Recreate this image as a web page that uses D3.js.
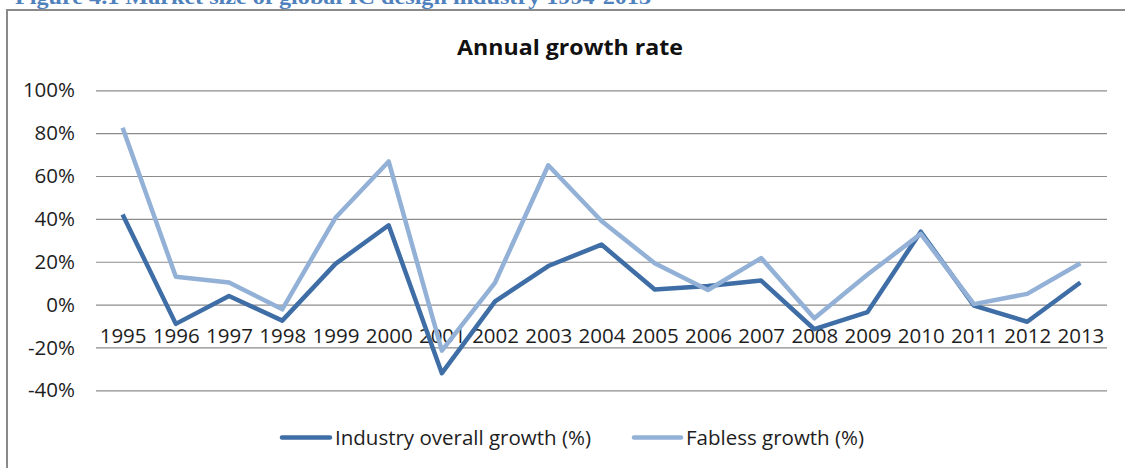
<!DOCTYPE html>
<html>
<head>
<meta charset="utf-8">
<script src="https://cdn.jsdelivr.net/npm/d3@7"></script>
<style>
  html, body { margin: 0; padding: 0; background: #fff; }
  svg { display: block; }
</style>
</head>
<body>
<svg id="chart" width="1125" height="468"></svg>
<script>
// Annual growth rate of the global IC design industry, 1995-2013
const years = ["1995","1996","1997","1998","1999","2000","2001","2002","2003","2004",
               "2005","2006","2007","2008","2009","2010","2011","2012","2013"];
const industryGrowth = [42, -9, 4, -7.5, 19, 37, -32, 1.5, 18, 28,
                        7, 8.7, 11.2, -11.5, -3.5, 34, -0.5, -8, 10.3];
const fablessGrowth  = [82.5, 13, 10.3, -2.2, 40.5, 66.8, -21.5, 10.3, 65, 39,
                        19.3, 6.8, 21.7, -6.4, 14, 33, 0.2, 5, 19.3];
const yTicks = [-40, -20, 0, 20, 40, 60, 80, 100];
const seriesNames = ["Industry overall growth (%)", "Fabless growth (%)"];
const seriesColors = ["#3e6ea5", "#93b1d6"];

const svg = d3.select("#chart");
const fontFamily = "'Open Sans', 'Noto Sans', sans-serif";

// Caption above the chart frame
svg.append("text")
  .attr("x", 15).attr("y", 4)
  .attr("font-family", "'Liberation Serif', 'Times New Roman', serif")
  .attr("font-weight", "bold")
  .attr("font-size", 20)
  .attr("fill", "#4f81bd")
  .attr("textLength", 636)
  .attr("lengthAdjust", "spacingAndGlyphs")
  .text("Figure 4.1 Market size of global IC design industry 1994-2013");

// Chart frame
svg.append("rect")
  .attr("x", 7).attr("y", 10)
  .attr("width", 1140).attr("height", 480)
  .attr("fill", "#fff")
  .attr("stroke", "#8a8a8a")
  .attr("stroke-width", 2);

// Title
svg.append("text")
  .attr("x", 570).attr("y", 55)
  .attr("text-anchor", "middle")
  .attr("font-family", fontFamily)
  .attr("font-weight", "bold")
  .attr("font-size", 21)
  .attr("fill", "#111")
  .attr("textLength", 226)
  .attr("lengthAdjust", "spacingAndGlyphs")
  .text("Annual  growth rate");

const x = d3.scalePoint().domain(years).range([96, 1107]).padding(0.5);
const y = d3.scaleLinear().domain([-40, 100]).range([390.3, 90.3]);

// Horizontal gridlines with percentage labels
const yAxis = d3.axisLeft(y)
  .tickValues(yTicks)
  .tickSize(-(1107 - 96))
  .tickPadding(21)
  .tickFormat(d => d + "%");

const gy = svg.append("g")
  .attr("transform", "translate(96,0)")
  .call(yAxis);
gy.select(".domain").remove();
gy.selectAll(".tick line")
  .attr("stroke", "#8c8c8c")
  .attr("stroke-width", 1.2);
gy.selectAll(".tick text")
  .attr("font-family", fontFamily)
  .attr("font-size", 20.5)
  .attr("fill", "#1e1e1e");

// Year labels sit just below the 0% line
const xAxis = d3.axisBottom(x).tickSize(0).tickPadding(0);
const gx = svg.append("g")
  .attr("transform", `translate(0,${y(0)})`)
  .call(xAxis);
gx.select(".domain").remove();
gx.selectAll(".tick text")
  .attr("font-family", fontFamily)
  .attr("font-size", 20.5)
  .attr("fill", "#1e1e1e")
  .attr("dy", null)
  .attr("y", 38);

// Series lines
const line = d3.line()
  .x((d, i) => x(years[i]))
  .y(d => y(d));

[industryGrowth, fablessGrowth].forEach((values, k) => {
  svg.append("path")
    .datum(values)
    .attr("d", line)
    .attr("fill", "none")
    .attr("stroke", seriesColors[k])
    .attr("stroke-width", 4.5)
    .attr("stroke-linejoin", "round");
});

// Legend
const legendItems = [
  { x0: 282, x1: 330, tx: 335 },
  { x0: 634, x1: 681, tx: 686 }
];
legendItems.forEach((it, k) => {
  svg.append("line")
    .attr("x1", it.x0).attr("x2", it.x1)
    .attr("y1", 437.5).attr("y2", 437.5)
    .attr("stroke", seriesColors[k])
    .attr("stroke-width", 4.5)
    .attr("stroke-linecap", "round");
  svg.append("text")
    .attr("x", it.tx).attr("y", 445)
    .attr("font-family", fontFamily)
    .attr("font-size", 20.5)
    .attr("fill", "#1e1e1e")
    .text(seriesNames[k]);
});
</script>
</body>
</html>
